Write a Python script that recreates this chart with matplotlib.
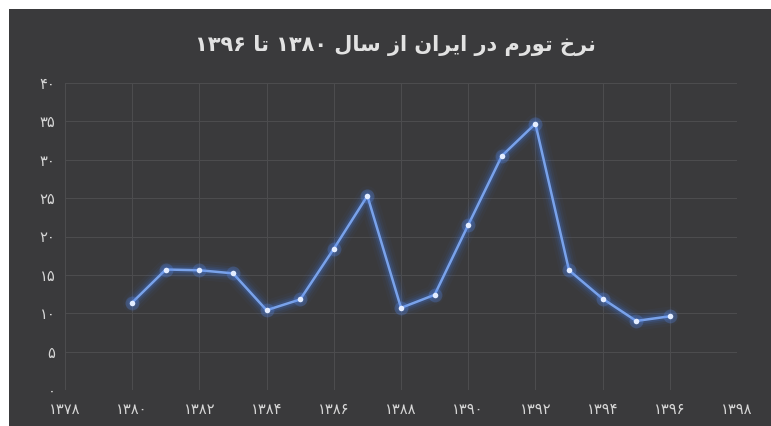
import matplotlib
matplotlib.use('Agg')
import matplotlib.pyplot as plt
from matplotlib.patches import Rectangle

# inflation rate in Iran, 1380-1396
years = [1380, 1381, 1382, 1383, 1384, 1385, 1386, 1387, 1388,
         1389, 1390, 1391, 1392, 1393, 1394, 1395, 1396]
inflation = [11.4, 15.7, 15.6, 15.2, 10.4, 11.8, 18.4, 25.3, 10.7,
             12.4, 21.5, 30.5, 34.7, 15.6, 11.9, 9.0, 9.6]
x_ticks = list(range(1378, 1399, 2))
y_ticks = list(range(0, 41, 5))
title = 'نرخ تورم در ایران از سال ۱۳۸۰ تا ۱۳۹۶'

BG = '#3a3a3c'
TEXT = '#d6d6d6'
GRID = '#4c4c4e'

# matplotlib has no arabic shaping, so do it by hand for the letters we need
# (isolated, final, initial, medial) - None means the letter doesn't join forward
FORMS = {
    'ا': ('\uFE8D', '\uFE8E', None, None),
    'د': ('\uFEA9', '\uFEAA', None, None),
    'ر': ('\uFEAD', '\uFEAE', None, None),
    'ز': ('\uFEAF', '\uFEB0', None, None),
    'و': ('\uFEED', '\uFEEE', None, None),
    'ن': ('\uFEE5', '\uFEE6', '\uFEE7', '\uFEE8'),
    'خ': ('\uFEA5', '\uFEA6', '\uFEA7', '\uFEA8'),
    'ت': ('\uFE95', '\uFE96', '\uFE97', '\uFE98'),
    'م': ('\uFEE1', '\uFEE2', '\uFEE3', '\uFEE4'),
    'س': ('\uFEB1', '\uFEB2', '\uFEB3', '\uFEB4'),
    'ل': ('\uFEDD', '\uFEDE', '\uFEDF', '\uFEE0'),
    'ی': ('\uFBFC', '\uFBFD', '\uFEF3', '\uFEF4'),
}


def shape_word(word):
    out = []
    for i, ch in enumerate(word):
        if ch not in FORMS:
            out.append(ch)
            continue
        prev_joins = i > 0 and word[i - 1] in FORMS and FORMS[word[i - 1]][2] is not None
        next_joins = (FORMS[ch][2] is not None and i < len(word) - 1
                      and word[i + 1] in FORMS)
        if prev_joins and next_joins:
            out.append(FORMS[ch][3])
        elif prev_joins:
            out.append(FORMS[ch][1])
        elif next_joins:
            out.append(FORMS[ch][2])
        else:
            out.append(FORMS[ch][0])
    return ''.join(reversed(out))


def rtl(text):
    tokens = []
    for tok in text.split(' '):
        if any(c in FORMS for c in tok):
            tokens.append(shape_word(tok))
        else:
            tokens.append(tok)
    return ' '.join(reversed(tokens))


def fa_digits(n):
    return str(n).translate(str.maketrans('0123456789', '۰۱۲۳۴۵۶۷۸۹'))


fig = plt.figure(figsize=(7.71, 4.26), dpi=100, facecolor='white')
# dark card, with the thin white screenshot border on the top and left
fig.patches.append(Rectangle((9 / 771, 0), 1, 1 - 9 / 426, transform=fig.transFigure,
                             facecolor=BG, edgecolor='none', zorder=-1))

ax = fig.add_axes([65 / 771, 1 - 390 / 426, (737 - 65) / 771, (390 - 83) / 426])
ax.set_facecolor(BG)

# glow under the line
for lw, a in [(14, 0.04), (10, 0.07), (7, 0.11), (4.5, 0.18)]:
    ax.plot(years, inflation, color='#4079e8', lw=lw, alpha=a,
            solid_capstyle='round', solid_joinstyle='round')
ax.plot(years, inflation, color='#79a2ea', lw=1.8, solid_joinstyle='round')
ax.plot(years, inflation, 'o', ms=10, color='#5a8ef2', alpha=0.25, mec='none')
ax.plot(years, inflation, 'o', ms=4, color='#e4edff', mec='none')

ax.set_xlim(1378, 1398)
ax.set_ylim(0, 40)
ax.set_xticks(x_ticks, [fa_digits(t) for t in x_ticks])
ax.set_yticks(y_ticks, [fa_digits(t) for t in y_ticks])
ax.tick_params(length=0, colors=TEXT, labelsize=10.5)
ax.tick_params(axis='x', pad=9)
ax.tick_params(axis='y', pad=7)
ax.grid(True, color=GRID, lw=0.8)
ax.set_axisbelow(True)
for s in ax.spines.values():
    s.set_visible(False)

fig.text(395 / 771, 1 - 45 / 426, rtl(title), ha='center', va='center',
         fontsize=15, fontweight='bold', color='#e2e2e2')

fig.savefig('out.png', dpi=100, facecolor=fig.get_facecolor())
